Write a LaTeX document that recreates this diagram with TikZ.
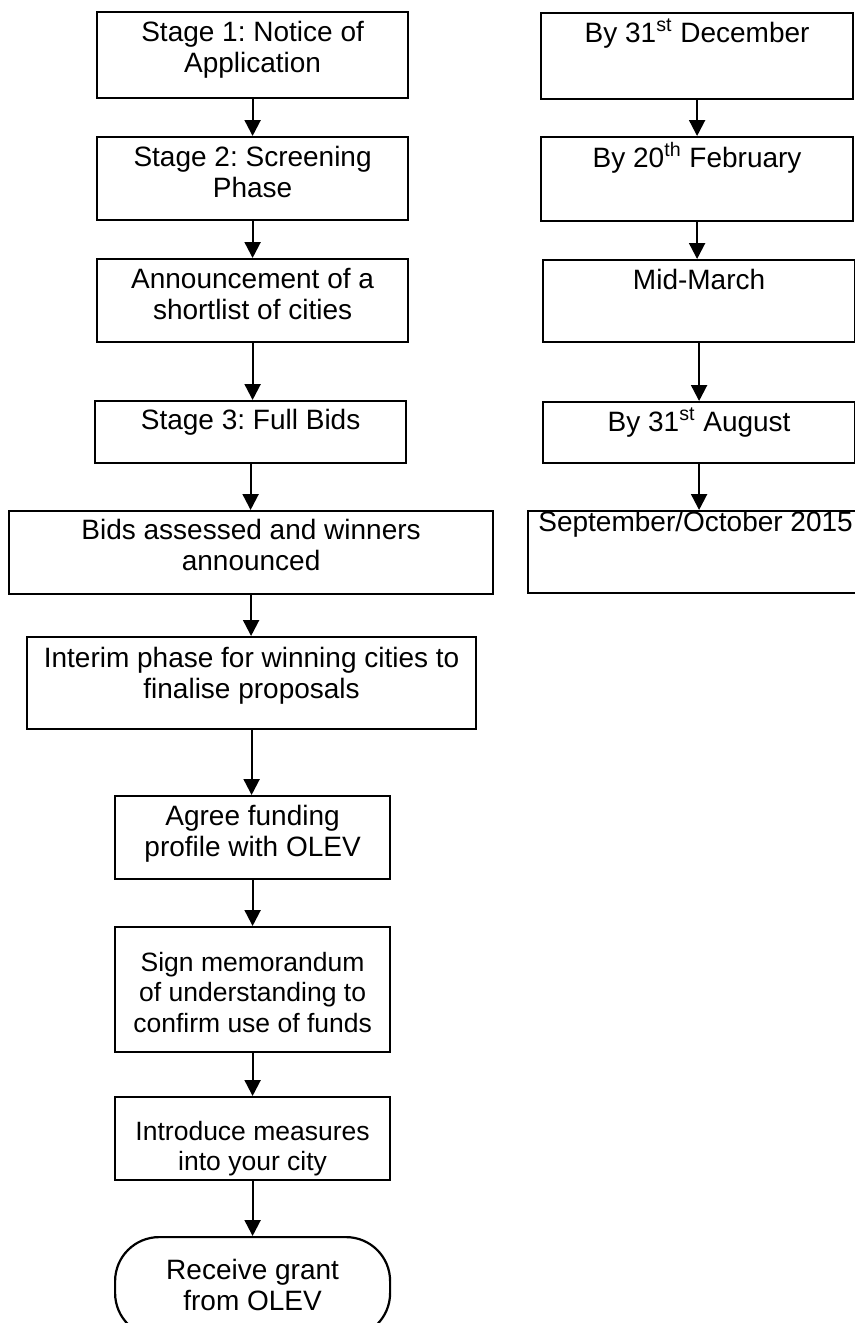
\documentclass[tikz,border=0pt]{standalone}
\usepackage{fontspec}
\setmainfont{Liberation Sans}
\frenchspacing
\usetikzlibrary{arrows.meta}
\usetikzlibrary{positioning}

% text box: width, height, first baseline from top, lines
\newcommand{\boxlines}[4]{\parbox[t][#2][t]{#1}{\centering\rule{0pt}{#3}#4}}

\begin{document}
\begin{tikzpicture}[x=0.5pt, y=-0.5pt,
		stagebox/.style={draw, line width=1.1pt, inner sep=0pt, anchor=north west,
			font=\fontsize{14pt}{15.5pt}\selectfont},
		smallbox/.style={stagebox, font=\fontsize{13.25pt}{15.25pt}\selectfont},
		endbox/.style={stagebox, rounded corners=22pt},
		flow/.style={-{Triangle[length=8pt, width=8pt]}, line width=1.1pt}]
	\useasboundingbox (0,0) rectangle (855,1323);
	% 左列：阶段
	\node[stagebox] (s1) at (96,11) {\boxlines{155.5pt}{43pt}{14.75pt}{Stage 1: Notice of\\Application}};
	\node[stagebox] (s2) at (96,136) {\boxlines{155.5pt}{41.5pt}{14.75pt}{Stage 2: Screening\\Phase}};
	\node[stagebox] (s3) at (96,258) {\boxlines{155.5pt}{41.5pt}{14.75pt}{Announcement of a\\shortlist of cities}};
	\node[stagebox] (s4) at (94,400) {\boxlines{155.5pt}{31pt}{14.25pt}{Stage 3: Full Bids}};
	\node[stagebox] (s5) at (8,510) {\boxlines{242pt}{41.5pt}{14.25pt}{Bids assessed and winners\\announced}};
	\node[stagebox] (s6) at (26,636) {\boxlines{224.5pt}{46pt}{15pt}{Interim phase for winning cities to\\finalise proposals}};
	\node[stagebox] (s7) at (114,795) {\boxlines{137.5pt}{41.5pt}{14.5pt}{Agree funding\\profile with OLEV}};
	\node[smallbox] (s8) at (114,926) {\boxlines{137.5pt}{62.5pt}{22pt}{Sign memorandum\\of understanding to\\confirm use of funds}};
	\node[smallbox] (s9) at (114,1096) {\boxlines{137.5pt}{41.5pt}{21.5pt}{Introduce measures\\into your city}};
	\node[endbox] (s10) at (114,1236) {\boxlines{137.5pt}{50pt}{21pt}{Receive grant\\from OLEV}};
	% 右列：日期
	\node[stagebox] (d1) at (540,12) {\boxlines{156pt}{43pt}{14.5pt}{By 31\textsuperscript{st} December}};
	\node[stagebox] (d2) at (540,136) {\boxlines{156pt}{42pt}{15pt}{By 20\textsuperscript{th} February}};
	\node[stagebox] (d3) at (542,259) {\boxlines{156pt}{41pt}{14.5pt}{Mid-March}};
	\node[stagebox] (d4) at (542,401) {\boxlines{156pt}{30.5pt}{14.5pt}{By 31\textsuperscript{st} August}};
	\node[stagebox] (d5) at (527,510) {\boxlines{167.5pt}{41pt}{10pt}{September/October 2015}};
	% 箭头（竖直）
	\foreach \a/\b in {s1/s2, s2/s3, s3/s4, s4/s5, s5/s6, s6/s7, s7/s8, s8/s9, s9/s10,
		d1/d2, d2/d3, d3/d4, d4/d5}
		\draw[flow] (\a.south) -- (\a.south |- \b.north);
\end{tikzpicture}
\end{document}
